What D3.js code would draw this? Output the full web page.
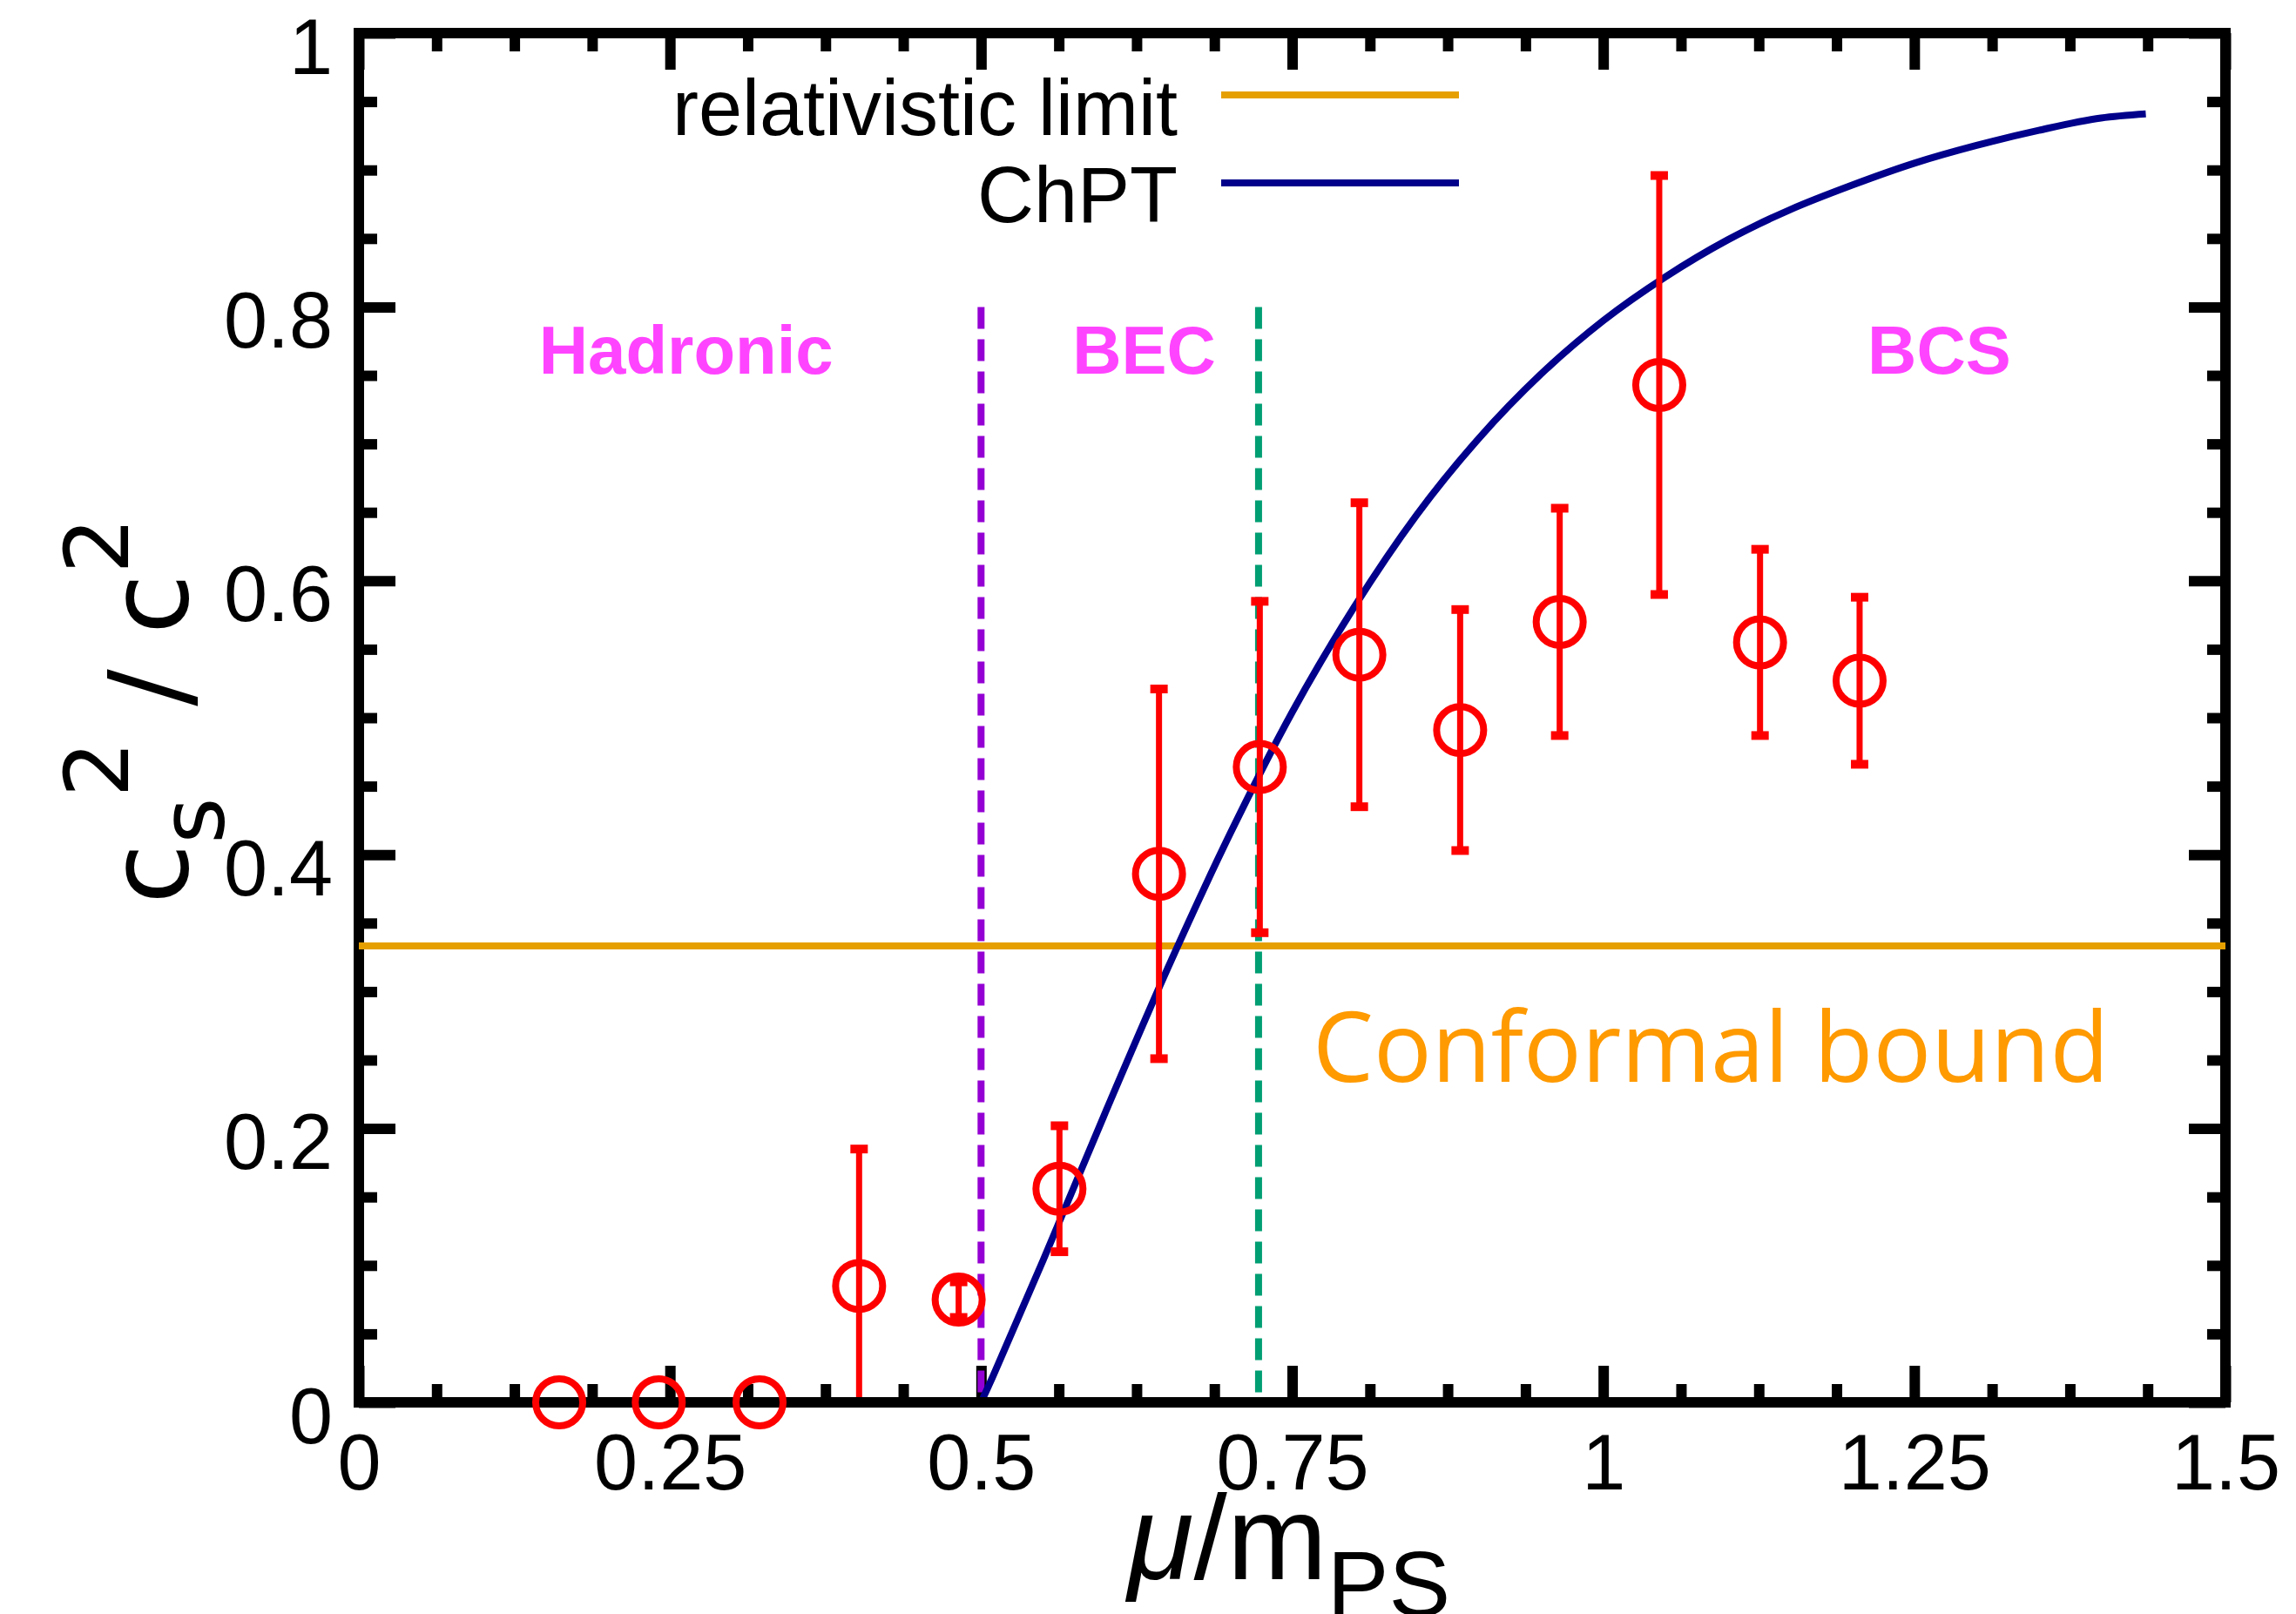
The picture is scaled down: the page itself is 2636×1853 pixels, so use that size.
<!DOCTYPE html>
<html>
<head>
<meta charset="utf-8">
<script src="https://cdn.jsdelivr.net/npm/d3@7"></script>
<style>
    body { margin: 0; background: #fff; }
</style>
</head>
<body>
<svg id="chart" width="2636" height="1853"></svg>
<script>
// lattice points: mu/m_PS, c_s^2/c^2 and its error
const muOverM = [0.161, 0.241, 0.322, 0.402, 0.482, 0.563, 0.643, 0.724, 0.804, 0.885, 0.965, 1.045, 1.126, 1.206];
const cs2 = [0, 0, 0, 0.085, 0.075, 0.156, 0.386, 0.464, 0.546, 0.491, 0.570, 0.743, 0.555, 0.527];
const cs2Err = [0, 0, 0, 0.100, 0.013, 0.046, 0.135, 0.121, 0.111, 0.088, 0.083, 0.153, 0.068, 0.061];

// ChPT curve
const chptMu = [0.5, 0.51, 0.52, 0.55, 0.6, 0.65, 0.7, 0.75, 0.8, 0.85, 0.9, 0.95, 1.0, 1.05, 1.1, 1.15, 1.2, 1.25, 1.3, 1.35, 1.4, 1.436];
const chptCs2 = [0, 0.020, 0.041, 0.104, 0.212, 0.317, 0.415, 0.504, 0.581, 0.648, 0.704, 0.751, 0.790, 0.822, 0.849, 0.871, 0.889, 0.905, 0.918, 0.929, 0.938, 0.941];

const conformalBound = 1 / 3;
const boundaries = [0.5, 0.723];
const boundaryColors = ["#9400d3", "#009e73"];

const regions = ["Hadronic", "BEC", "BCS"];
const regionMu = [0.263, 0.631, 1.270];
const regionY = 0.751;

const xTicks = [0, 0.25, 0.5, 0.75, 1, 1.25, 1.5];
const xTickLabels = ["0", "0.25", "0.5", "0.75", "1", "1.25", "1.5"];
const yTicks = [0, 0.2, 0.4, 0.6, 0.8, 1];
const yTickLabels = ["0", "0.2", "0.4", "0.6", "0.8", "1"];

const legendLabels = ["relativistic limit", "ChPT"];
const legendColors = ["#e69f00", "#00008b"];

const sans = "'Liberation Sans', Arial, Helvetica, sans-serif";

const chart = {
    svg: d3.select("#chart"),

    scales: {
        x: d3.scaleLinear([0, 1.5], [412, 2555]),
        y: d3.scaleLinear([0, 1], [1610, 38])
    },

    styleTicks(g) {
        g.select(".domain").remove();
        g.selectAll(".tick line").attr("stroke", "#000").attr("stroke-width", 12);
    },

    drawAxes() {
        const x = this.scales.x, y = this.scales.y;
        const minorX = d3.range(0, 1.5001, 0.0625).filter(d => Math.abs(d / 0.25 - Math.round(d / 0.25)) > 1e-6);
        const minorY = d3.range(0, 1.0001, 0.05).filter(d => Math.abs(d / 0.2 - Math.round(d / 0.2)) > 1e-6);

        const axes = [
            [d3.axisBottom(x), `translate(0,${y(0)})`, xTicks, minorX],
            [d3.axisTop(x), `translate(0,${y(1)})`, xTicks, minorX],
            [d3.axisLeft(y), `translate(${x(0)},0)`, yTicks, minorY],
            [d3.axisRight(y), `translate(${x(1.5)},0)`, yTicks, minorY]
        ];

        axes.forEach(([axis, tr, major, minor], i) => {
            this.svg.append("g").attr("transform", tr)
                .call(axis.tickValues(minor).tickSize(-21).tickFormat(""))
                .call(g => this.styleTicks(g));

            const g = this.svg.append("g").attr("transform", tr)
                .call(axis.tickValues(major).tickSize(-42).tickFormat(""))
                .call(g => this.styleTicks(g));

            g.selectAll(".tick text").remove();

            if (i === 0) {
                g.selectAll(".tick").append("text")
                    .attr("y", 100)
                    .attr("text-anchor", "middle")
                    .attr("font-family", sans)
                    .attr("font-size", 90)
                    .attr("fill", "#000")
                    .text(d => xTickLabels[xTicks.indexOf(d)]);
            }
            if (i === 2) {
                g.selectAll(".tick").append("text")
                    .attr("x", -30)
                    .attr("y", 46)
                    .attr("text-anchor", "end")
                    .attr("font-family", sans)
                    .attr("font-size", 90)
                    .attr("fill", "#000")
                    .text(d => yTickLabels[yTicks.indexOf(d)]);
            }
        });

        this.svg.append("rect")
            .attr("x", x(0)).attr("y", y(1))
            .attr("width", x(1.5) - x(0)).attr("height", y(0) - y(1))
            .attr("fill", "none").attr("stroke", "#000").attr("stroke-width", 12);
    },

    drawTitles() {
        const xt = this.svg.append("text")
            .attr("x", 1480).attr("y", 1813)
            .attr("text-anchor", "middle")
            .attr("font-family", sans)
            .attr("font-size", 138)
            .attr("fill", "#000");
        xt.append("tspan").attr("font-style", "italic").text("μ");
        xt.append("tspan").text("/m");
        xt.append("tspan").attr("font-size", 106).attr("dy", 42).text("PS");

        const yt = this.svg.append("text")
            .attr("transform", "translate(215,816) rotate(-90)")
            .attr("text-anchor", "middle")
            .attr("font-family", "'DejaVu Sans', Verdana, sans-serif")
            .attr("font-size", 126)
            .attr("fill", "#000");
        yt.append("tspan").text("c");
        yt.append("tspan").attr("font-size", 102).attr("dy", 42).text("s");
        yt.append("tspan").attr("font-size", 102).attr("dy", -110).text("2");
        yt.append("tspan").attr("dy", 68).text(" / c");
        yt.append("tspan").attr("font-size", 102).attr("dy", -68).text("2");
    },

    drawGuides() {
        const x = this.scales.x, y = this.scales.y;

        this.svg.append("line")
            .attr("x1", x(0)).attr("x2", x(1.5))
            .attr("y1", y(conformalBound)).attr("y2", y(conformalBound))
            .attr("stroke", "#e69f00").attr("stroke-width", 8);

        this.svg.selectAll(".boundary").data(boundaries).enter()
            .append("line")
            .attr("class", "boundary")
            .attr("x1", d => x(d)).attr("x2", d => x(d))
            .attr("y1", y(0.8)).attr("y2", y(0))
            .attr("stroke", (d, i) => boundaryColors[i])
            .attr("stroke-width", 8)
            .attr("stroke-dasharray", "25,12");

        this.svg.selectAll(".region").data(regions).enter()
            .append("text")
            .attr("class", "region")
            .attr("x", (d, i) => x(regionMu[i]))
            .attr("y", y(regionY))
            .attr("text-anchor", "middle")
            .attr("font-family", sans)
            .attr("font-weight", "bold")
            .attr("font-size", 78)
            .attr("fill", "#ff44ff")
            .text(d => d);

        this.svg.append("text")
            .attr("x", 1507).attr("y", 1242)
            .attr("font-family", "'Open Sans', 'Noto Sans', sans-serif")
            .attr("font-size", 111)
            .attr("fill", "#ff9a00")
            .text("Conformal bound");
    },

    drawLegend() {
        legendLabels.forEach((label, i) => {
            this.svg.append("text")
                .attr("x", 1352).attr("y", 155 + i * 100)
                .attr("text-anchor", "end")
                .attr("font-family", sans)
                .attr("font-size", 90)
                .attr("fill", "#000")
                .text(label);
            this.svg.append("line")
                .attr("x1", 1402).attr("x2", 1675)
                .attr("y1", 109 + i * 101).attr("y2", 109 + i * 101)
                .attr("stroke", legendColors[i]).attr("stroke-width", 8);
        });
    },

    drawData() {
        const x = this.scales.x, y = this.scales.y;

        this.svg.append("clipPath").attr("id", "plot-clip")
            .append("rect")
            .attr("x", x(0)).attr("y", y(1))
            .attr("width", x(1.5) - x(0)).attr("height", y(0) - y(1) - 6);

        const curve = chptMu.map((m, i) => [m, chptCs2[i]]);
        this.svg.append("path")
            .datum(curve)
            .attr("clip-path", "url(#plot-clip)")
            .attr("fill", "none")
            .attr("stroke", "#00008b")
            .attr("stroke-width", 8)
            .attr("d", d3.line().x(d => x(d[0])).y(d => y(d[1])).curve(d3.curveMonotoneX));

        const pts = muOverM.map((m, i) => ({ mu: m, v: cs2[i], e: cs2Err[i] }));
        const bars = this.svg.append("g").attr("clip-path", "url(#plot-clip)")
            .selectAll("g").data(pts.filter(d => d.e > 0)).enter().append("g");

        bars.append("line")
            .attr("x1", d => x(d.mu)).attr("x2", d => x(d.mu))
            .attr("y1", d => y(d.v - d.e)).attr("y2", d => y(d.v + d.e))
            .attr("stroke", "#ff0000").attr("stroke-width", 7);

        [-1, 1].forEach(s => {
            bars.append("line")
                .attr("x1", d => x(d.mu) - 10).attr("x2", d => x(d.mu) + 10)
                .attr("y1", d => y(d.v + s * d.e)).attr("y2", d => y(d.v + s * d.e))
                .attr("stroke", "#ff0000").attr("stroke-width", 10);
        });

        this.svg.append("g").selectAll("circle").data(pts).enter()
            .append("circle")
            .attr("cx", d => x(d.mu))
            .attr("cy", d => y(d.v))
            .attr("r", 27)
            .attr("fill", "none")
            .attr("stroke", "#ff0000")
            .attr("stroke-width", 8);
    },

    driver() {
        this.drawAxes();
        this.drawGuides();
        this.drawData();
        this.drawLegend();
        this.drawTitles();
    }
}

chart.driver();
</script>
</body>
</html>
